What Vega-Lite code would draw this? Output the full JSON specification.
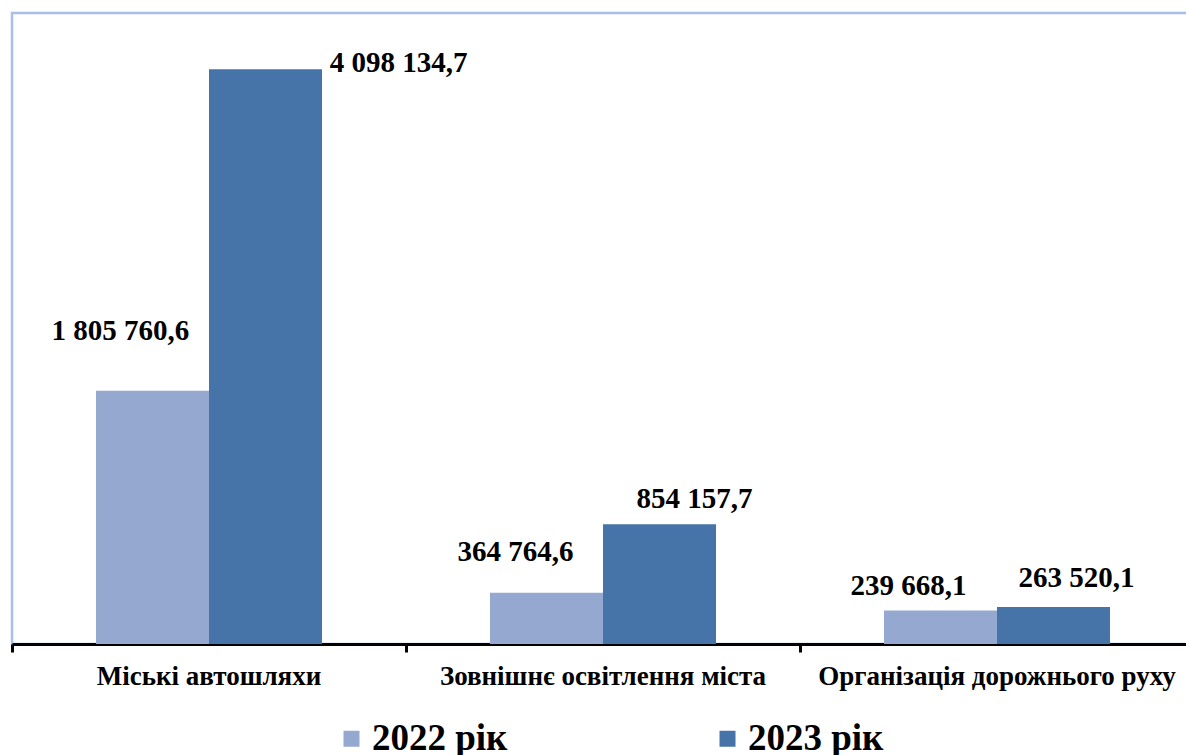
{
  "$schema": "https://vega.github.io/schema/vega-lite/v6.json",
  "width": 1182,
  "height": 631,
  "autosize": {"type": "none"},
  "padding": {"left": 12, "top": 13, "right": -8, "bottom": 111},
  "background": "white",
  "config": {
    "locale": {"number": {"decimal": ",", "thousands": " ", "grouping": [3], "currency": ["", ""]}},
    "view": {"stroke": "#a9c0e6", "strokeWidth": 2.5}
  },
  "data": {"values": [
    {"cat": "Міські автошляхи", "year": "2022 рік", "value": 1805760.6},
    {"cat": "Міські автошляхи", "year": "2023 рік", "value": 4098134.7},
    {"cat": "Зовнішнє освітлення міста", "year": "2022 рік", "value": 364764.6},
    {"cat": "Зовнішнє освітлення міста", "year": "2023 рік", "value": 854157.7},
    {"cat": "Організація дорожнього руху", "year": "2022 рік", "value": 239668.1},
    {"cat": "Організація дорожнього руху", "year": "2023 рік", "value": 263520.1}
  ]},
  "encoding": {
    "x": {
      "field": "cat", "type": "nominal", "sort": null, "title": null,
      "scale": {"paddingInner": 0, "paddingOuter": 0, "align": 0},
      "axis": {
        "bandPosition": 0, "labelAngle": 0,
        "domainColor": "black", "domainWidth": 3,
        "tickColor": "black", "tickWidth": 3, "tickSize": 8,
        "labelFont": "Liberation Serif", "labelFontWeight": "bold", "labelFontSize": 27,
        "labelColor": "black", "labelBaseline": "alphabetic", "labelPadding": 32, "labelLimit": 0
      }
    },
    "xOffset": {"field": "year", "type": "nominal", "scale": {"paddingInner": 0, "paddingOuter": 0.743}},
    "y": {"field": "value", "type": "quantitative", "axis": null, "scale": {"domain": [0, 4500000], "nice": false}}
  },
  "layer": [
    {
      "mark": {"type": "bar"},
      "encoding": {
        "color": {
          "field": "year", "type": "nominal",
          "scale": {"domain": ["2022 рік", "2023 рік"], "range": ["#95a9d0", "#4674a8"]},
          "legend": {
            "orient": "none", "legendX": 321, "legendY": 707, "direction": "horizontal", "title": null,
            "symbolType": "square", "symbolSize": 256, "symbolStrokeWidth": 0,
            "labelFont": "Liberation Serif", "labelFontWeight": "bold", "labelFontSize": 37,
            "labelColor": "black", "labelOffset": 2, "columnPadding": 201, "labelLimit": 0, "padding": 0
          }
        }
      }
    },
    {
      "transform": [{"filter": "datum.cat === 'Міські автошляхи' && datum.year === '2022 рік'"}],
      "mark": {"type": "text", "font": "Liberation Serif", "fontWeight": "bold", "fontSize": 29, "baseline": "alphabetic", "align": "center", "color": "black", "dx": -32, "dy": -51},
      "encoding": {"text": {"field": "value", "type": "quantitative", "format": ",.1f"}}
    },
    {
      "transform": [{"filter": "datum.cat === 'Міські автошляхи' && datum.year === '2023 рік'"}],
      "mark": {"type": "text", "font": "Liberation Serif", "fontWeight": "bold", "fontSize": 29, "baseline": "alphabetic", "align": "center", "color": "black", "dx": 133, "dy": 3},
      "encoding": {"text": {"field": "value", "type": "quantitative", "format": ",.1f"}}
    },
    {
      "transform": [{"filter": "datum.cat === 'Зовнішнє освітлення міста' && datum.year === '2022 рік'"}],
      "mark": {"type": "text", "font": "Liberation Serif", "fontWeight": "bold", "fontSize": 29, "baseline": "alphabetic", "align": "center", "color": "black", "dx": -31, "dy": -32},
      "encoding": {"text": {"field": "value", "type": "quantitative", "format": ",.1f"}}
    },
    {
      "transform": [{"filter": "datum.cat === 'Зовнішнє освітлення міста' && datum.year === '2023 рік'"}],
      "mark": {"type": "text", "font": "Liberation Serif", "fontWeight": "bold", "fontSize": 29, "baseline": "alphabetic", "align": "center", "color": "black", "dx": 35, "dy": -16},
      "encoding": {"text": {"field": "value", "type": "quantitative", "format": ",.1f"}}
    },
    {
      "transform": [{"filter": "datum.cat === 'Організація дорожнього руху' && datum.year === '2022 рік'"}],
      "mark": {"type": "text", "font": "Liberation Serif", "fontWeight": "bold", "fontSize": 29, "baseline": "alphabetic", "align": "center", "color": "black", "dx": -32, "dy": -15},
      "encoding": {"text": {"field": "value", "type": "quantitative", "format": ",.1f"}}
    },
    {
      "transform": [{"filter": "datum.cat === 'Організація дорожнього руху' && datum.year === '2023 рік'"}],
      "mark": {"type": "text", "font": "Liberation Serif", "fontWeight": "bold", "fontSize": 29, "baseline": "alphabetic", "align": "center", "color": "black", "dx": 23, "dy": -20},
      "encoding": {"text": {"field": "value", "type": "quantitative", "format": ",.1f"}}
    }
  ]
}
